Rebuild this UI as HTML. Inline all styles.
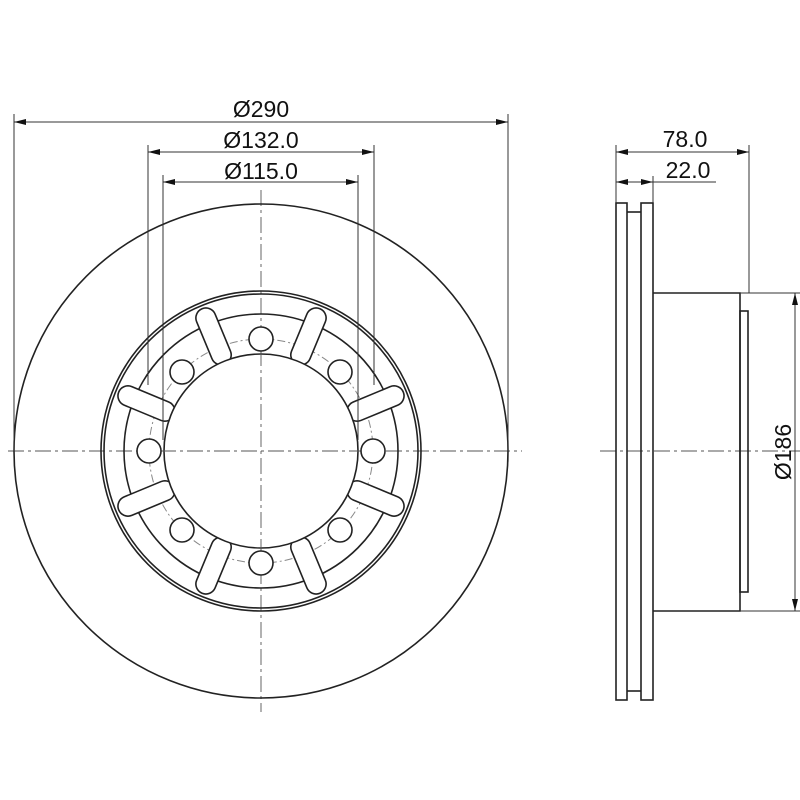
<!DOCTYPE html>
<html><head><meta charset="utf-8"><style>
html,body{margin:0;padding:0;background:#fff;}
svg{display:block;}
text{font-family:"Liberation Sans","DejaVu Sans",sans-serif;fill:#111;}
</style></head><body>
<svg width="800" height="800" viewBox="0 0 800 800" xmlns="http://www.w3.org/2000/svg">
<defs>
<marker id="a" viewBox="0 0 12 6" refX="12" refY="3" markerWidth="12" markerHeight="6" orient="auto-start-reverse" markerUnits="userSpaceOnUse"><path d="M0,0 L12,3 L0,6 Z" fill="#111"/></marker>
<g id="slot"><rect x="-10" y="-154" width="20" height="60" rx="10" fill="#fff" stroke="#222" stroke-width="1.6"/></g>
</defs>
<g stroke="#555" stroke-width="0.9" stroke-dasharray="16,4,3,4" fill="none">
<line x1="8" y1="451" x2="522" y2="451"/>
<line x1="261" y1="190" x2="261" y2="712"/>
<line x1="600" y1="451" x2="800" y2="451"/>
</g>
<g fill="none" stroke="#222" stroke-width="1.6">
<circle cx="261" cy="451" r="247"/>
<circle cx="261" cy="451" r="160"/>
<circle cx="261" cy="451" r="157"/>
<circle cx="261" cy="451" r="137"/>
</g>
<circle cx="261" cy="451" r="112" fill="none" stroke="#888" stroke-width="1" stroke-dasharray="8,3,2,3"/>
<g transform="translate(261,451)">
<use href="#slot" transform="rotate(22.5)"/><use href="#slot" transform="rotate(67.5)"/>
<use href="#slot" transform="rotate(112.5)"/><use href="#slot" transform="rotate(157.5)"/>
<use href="#slot" transform="rotate(202.5)"/><use href="#slot" transform="rotate(247.5)"/>
<use href="#slot" transform="rotate(292.5)"/><use href="#slot" transform="rotate(337.5)"/>
</g>
<circle cx="261" cy="451" r="97" fill="#fff" stroke="#222" stroke-width="1.6"/>
<g stroke="#555" stroke-width="0.9" stroke-dasharray="16,4,3,4" fill="none">
<line x1="160" y1="451" x2="362" y2="451"/>
<line x1="261" y1="350" x2="261" y2="552"/>
</g>
<g fill="#fff" stroke="#222" stroke-width="1.6">
<circle cx="261" cy="339" r="12"/><circle cx="261" cy="563" r="12"/>
<circle cx="149" cy="451" r="12"/><circle cx="373" cy="451" r="12"/>
<circle cx="182" cy="372" r="12"/><circle cx="340" cy="372" r="12"/>
<circle cx="182" cy="530" r="12"/><circle cx="340" cy="530" r="12"/>
</g>
<g stroke="#333" stroke-width="1" fill="none">
<line x1="14" y1="114" x2="14" y2="451"/><line x1="508" y1="114" x2="508" y2="451"/>
<line x1="14" y1="122" x2="508" y2="122" marker-start="url(#a)" marker-end="url(#a)"/>
<line x1="148" y1="145" x2="148" y2="385"/><line x1="374" y1="145" x2="374" y2="385"/>
<line x1="148" y1="152" x2="374" y2="152" marker-start="url(#a)" marker-end="url(#a)"/>
<line x1="163" y1="175" x2="163" y2="440"/><line x1="358" y1="175" x2="358" y2="440"/>
<line x1="163" y1="182" x2="358" y2="182" marker-start="url(#a)" marker-end="url(#a)"/>
</g>
<text x="261" y="117" font-size="23" text-anchor="middle">Ø290</text>
<text x="261" y="148" font-size="23" text-anchor="middle">Ø132.0</text>
<text x="261" y="179" font-size="23" text-anchor="middle">Ø115.0</text>
<g fill="none" stroke="#222" stroke-width="1.6">
<rect x="616" y="203" width="11" height="497"/>
<rect x="641" y="203" width="12" height="497"/>
<line x1="627" y1="212" x2="641" y2="212"/><line x1="627" y1="691" x2="641" y2="691"/>
<polyline points="653,293 740,293 740,611 653,611"/>
<rect x="740" y="311" width="8" height="281"/>
</g>
<g stroke="#333" stroke-width="1" fill="none">
<line x1="616" y1="145" x2="616" y2="203"/>
<line x1="749" y1="145" x2="749" y2="293"/>
<line x1="653" y1="176" x2="653" y2="203"/>
<line x1="616" y1="152" x2="749" y2="152" marker-start="url(#a)" marker-end="url(#a)"/>
<line x1="616" y1="182" x2="653" y2="182" marker-start="url(#a)" marker-end="url(#a)"/>
<line x1="653" y1="182" x2="716" y2="182"/>
<line x1="740" y1="293" x2="800" y2="293"/><line x1="740" y1="611" x2="800" y2="611"/>
<line x1="795" y1="293" x2="795" y2="611" marker-start="url(#a)" marker-end="url(#a)"/>
</g>
<text x="685" y="147" font-size="23" text-anchor="middle">78.0</text>
<text x="688" y="178" font-size="23" text-anchor="middle">22.0</text>
<text transform="translate(791,452) rotate(-90)" font-size="23" text-anchor="middle">Ø186</text>
</svg>
</body></html>
